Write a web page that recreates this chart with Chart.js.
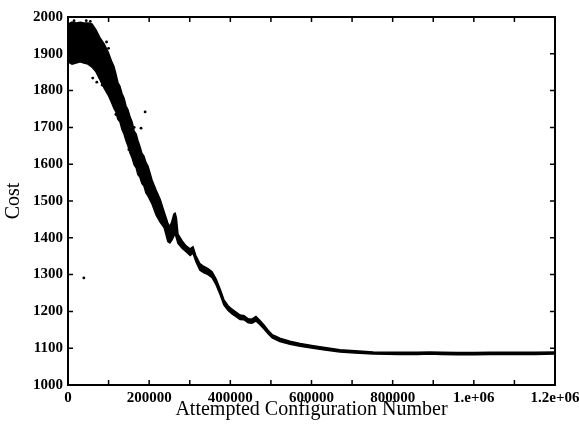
<!DOCTYPE html>
<html>
<head>
<meta charset="utf-8">
<title>Cost vs Attempted Configuration Number</title>
<script src="https://cdn.jsdelivr.net/npm/chart.js@4.4.1/dist/chart.umd.min.js"></script>
<style>
  html, body { margin: 0; padding: 0; background: #fff; }
  #costChart { display: block; }
</style>
</head>
<body>
<canvas id="costChart" width="579" height="425"></canvas>
<script>
// attempted configuration number (x) for the band edges
var configNumbers = [
  0, 10000, 20000, 30000, 39000, 49000, 59000, 69000, 79000, 89000,
  99000, 108000, 113000, 118000, 123000, 128000, 133000, 138000, 143000, 148000,
  153000, 158000, 163000, 168000, 172000, 177000, 182000, 187000, 192000, 197000,
  207000, 217000, 227000, 237000, 246000, 251000, 256000, 261000, 264000, 267000,
  271000, 281000, 291000, 301000, 308000, 315000, 325000, 335000, 345000, 355000,
  365000, 375000, 384000, 394000, 404000, 414000, 424000, 434000, 444000, 453000,
  463000, 473000, 483000, 493000, 503000, 513000, 522000, 547000, 572000, 604000,
  633000, 670000, 707000, 752000, 818000, 860000, 892000, 920000, 960000, 1000000,
  1040000, 1100000, 1150000, 1200000
];

// upper edge of the cost cloud
var costHigh = [
  1981, 1986, 1984, 1986, 1984, 1984, 1981, 1965, 1943, 1927,
  1905, 1878, 1866, 1845, 1822, 1812, 1792, 1780, 1758, 1747,
  1728, 1715, 1690, 1682, 1665, 1649, 1630, 1622, 1605, 1595,
  1557, 1530, 1505, 1470, 1440, 1430, 1445, 1465, 1467, 1455,
  1410, 1392, 1378, 1370, 1376, 1352, 1330, 1322, 1316, 1308,
  1288, 1260, 1232, 1216, 1206, 1198, 1190, 1188, 1180, 1179,
  1186, 1175, 1163, 1149, 1137, 1132, 1127, 1119, 1113, 1107,
  1102, 1096, 1093, 1090, 1089, 1089, 1090, 1089, 1088, 1088,
  1089, 1089, 1089, 1090
];

// lower edge of the cost cloud
var costLow = [
  1878, 1872, 1875, 1878, 1875, 1872, 1864, 1851, 1829, 1807,
  1788, 1766, 1752, 1742, 1722, 1715, 1694, 1682, 1664, 1649,
  1630, 1617, 1598, 1590, 1572, 1565, 1548, 1541, 1522, 1514,
  1492, 1462, 1443, 1427, 1390, 1386, 1394, 1405, 1410, 1400,
  1385, 1372, 1362, 1352, 1358, 1336, 1312, 1305, 1300, 1292,
  1272, 1245, 1218, 1203, 1193, 1186, 1178, 1177, 1169, 1168,
  1174, 1164, 1152, 1139, 1128, 1123, 1118, 1111, 1105, 1100,
  1095, 1090, 1087, 1084, 1083, 1083, 1084, 1083, 1082, 1082,
  1083, 1083, 1083, 1084
];

// stray points away from the main cloud
var strayX = [15000, 45000, 55000, 61000, 71000, 84000, 95000, 100000, 118000, 135000, 150000, 163000, 180000, 190000, 39000];
var strayCost = [1990, 1990, 1988, 1834, 1823, 1815, 1932, 1915, 1735, 1700, 1640, 1700, 1698, 1742, 1291];

var xTickLabels = {
  0: "0",
  200000: "200000",
  400000: "400000",
  600000: "600000",
  800000: "800000",
  1000000: "1.e+06",
  1200000: "1.2e+06"
};

function toPoints(xs, ys) {
  var pts = [];
  for (var i = 0; i < xs.length; ++i) {
    pts.push({ x: xs[i], y: ys[i] });
  }
  return pts;
}

// box round the plot with inward ticks on all four sides
var framePlugin = {
  id: "frame",
  afterDatasetsDraw(chart) {
    var ctx = chart.ctx;
    var area = chart.chartArea;
    var xs = chart.scales.x;
    var ys = chart.scales.y;
    var tick = 5;
    ctx.save();
    ctx.strokeStyle = "#000";
    ctx.lineWidth = 1.5;
    ctx.beginPath();
    xs.ticks.forEach(function (t) {
      var px = xs.getPixelForValue(t.value);
      ctx.moveTo(px, area.bottom);
      ctx.lineTo(px, area.bottom - tick);
      ctx.moveTo(px, area.top);
      ctx.lineTo(px, area.top + tick);
    });
    ys.ticks.forEach(function (t) {
      var py = ys.getPixelForValue(t.value);
      ctx.moveTo(area.left, py);
      ctx.lineTo(area.left + tick, py);
      ctx.moveTo(area.right, py);
      ctx.lineTo(area.right - tick, py);
    });
    ctx.stroke();
    ctx.lineWidth = 2;
    ctx.strokeRect(area.left, area.top, area.right - area.left, area.bottom - area.top);
    ctx.restore();
  },
};

var serif = "'Liberation Serif', 'DejaVu Serif', serif";

var ctx = document.getElementById("costChart").getContext("2d");
window.costChart = new Chart(ctx, {
  type: "scatter",
  data: {
    datasets: [
      {
        label: "low",
        data: toPoints(configNumbers, costLow),
        showLine: true,
        borderColor: "#000",
        borderWidth: 1.5,
        pointRadius: 0,
        fill: false,
      },
      {
        label: "high",
        data: toPoints(configNumbers, costHigh),
        showLine: true,
        borderColor: "#000",
        backgroundColor: "#000",
        borderWidth: 1.5,
        pointRadius: 0,
        fill: "-1",
      },
      {
        label: "stray",
        data: toPoints(strayX, strayCost),
        backgroundColor: "#000",
        borderColor: "#000",
        pointRadius: 1.4,
        borderWidth: 0,
      },
    ],
  },
  options: {
    responsive: false,
    animation: false,
    layout: { padding: { top: 17, right: 24, left: 0, bottom: 0 } },
    plugins: {
      legend: { display: false },
      tooltip: { enabled: false },
    },
    scales: {
      x: {
        type: "linear",
        min: 0,
        max: 1200000,
        grid: { display: false, drawTicks: false },
        border: { display: false },
        ticks: {
          stepSize: 100000,
          autoSkip: false,
          maxRotation: 0,
          padding: 4,
          color: "#000",
          font: { family: serif, size: 15, weight: "bold" },
          callback: function (v) {
            return xTickLabels[v] !== undefined ? xTickLabels[v] : "";
          },
        },
        title: {
          display: true,
          text: "Attempted Configuration Number",
          color: "#000",
          font: { family: serif, size: 20 },
          padding: { top: 0, bottom: 3 },
        },
        afterFit: function (scale) {
          scale.height = 40;
          scale.paddingLeft = 0;
          scale.paddingRight = 0;
        },
      },
      y: {
        type: "linear",
        min: 1000,
        max: 2000,
        grid: { display: false, drawTicks: false },
        border: { display: false },
        ticks: {
          stepSize: 100,
          padding: 5,
          color: "#000",
          font: { family: serif, size: 15, weight: "bold" },
          callback: function (v) {
            return String(v);
          },
        },
        title: {
          display: true,
          text: "Cost",
          color: "#000",
          font: { family: serif, size: 20 },
          padding: { top: 2, bottom: 0 },
        },
        afterFit: function (scale) {
          scale.width = 68;
        },
      },
    },
  },
  plugins: [framePlugin],
});
</script>
</body>
</html>
